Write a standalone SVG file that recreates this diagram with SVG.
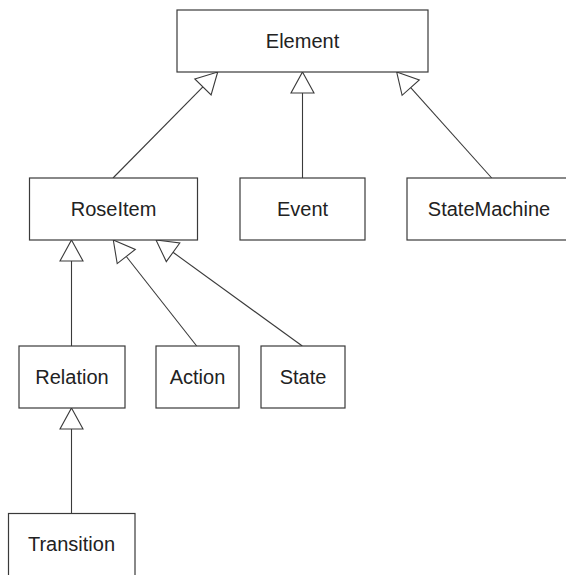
<svg xmlns="http://www.w3.org/2000/svg" width="566" height="575" viewBox="0 0 566 575">
  <style>
    .box { fill: #ffffff; stroke: #3a3a3a; stroke-width: 1.2; }
    .lbl { font-family: "Liberation Sans", Arial, sans-serif; font-size: 20px; fill: #222222; text-anchor: middle; }
    .edge { stroke: #3a3a3a; stroke-width: 1.1; fill: none; }
    .head { fill: #ffffff; stroke: #3a3a3a; stroke-width: 1.1; stroke-linejoin: miter; }
  </style>
  <rect x="0" y="0" width="566" height="575" fill="#ffffff"/>

  <g id="connectors">
    <!-- RoseItem -> Element -->
    <line class="edge" x1="113" y1="178" x2="202.9" y2="86.9"/>
    <polygon class="head" points="217.7,72 211.1,95.0 194.8,78.9"/>
    <!-- Event -> Element -->
    <line class="edge" x1="302.5" y1="178" x2="302.5" y2="93"/>
    <polygon class="head" points="302.5,72 314,93 291,93"/>
    <!-- StateMachine -> Element -->
    <line class="edge" x1="491.7" y1="178" x2="410.7" y2="87.6"/>
    <polygon class="head" points="396.7,72 419.3,80.0 402.1,95.3"/>
    <!-- Relation -> RoseItem -->
    <line class="edge" x1="71.5" y1="346" x2="71.5" y2="261"/>
    <polygon class="head" points="71.5,240 83,261 60,261"/>
    <!-- Action -> RoseItem -->
    <line class="edge" x1="196.7" y1="346" x2="126.3" y2="256.5"/>
    <polygon class="head" points="113.3,240 135.3,249.4 117.2,263.6"/>
    <!-- State -> RoseItem -->
    <line class="edge" x1="302.3" y1="346" x2="173" y2="252.3"/>
    <polygon class="head" points="156,240 179.8,243.0 166.3,261.6"/>
    <!-- Transition -> Relation -->
    <line class="edge" x1="71.5" y1="513.5" x2="71.5" y2="429"/>
    <polygon class="head" points="71.5,408 83,429 60,429"/>
  </g>

  <g id="element">
    <rect class="box" x="177" y="10" width="251" height="62"/>
    <text class="lbl" x="302.5" y="48">Element</text>
  </g>
  <g id="roseitem">
    <rect class="box" x="29.5" y="178" width="168" height="62"/>
    <text class="lbl" x="113.5" y="216">RoseItem</text>
  </g>
  <g id="event">
    <rect class="box" x="240" y="178" width="125" height="62"/>
    <text class="lbl" x="302.5" y="216">Event</text>
  </g>
  <g id="statemachine">
    <rect class="box" x="407" y="178" width="168" height="62"/>
    <text class="lbl" x="489" y="216">StateMachine</text>
  </g>
  <g id="relation">
    <rect class="box" x="19" y="346" width="106" height="62"/>
    <text class="lbl" x="72" y="384">Relation</text>
  </g>
  <g id="action">
    <rect class="box" x="156" y="346" width="83" height="62"/>
    <text class="lbl" x="197.5" y="384">Action</text>
  </g>
  <g id="state">
    <rect class="box" x="261" y="346" width="84" height="62"/>
    <text class="lbl" x="303" y="384">State</text>
  </g>
  <g id="transition">
    <rect class="box" x="8.5" y="513.5" width="126.5" height="70"/>
    <text class="lbl" x="71.5" y="551">Transition</text>
  </g>
</svg>
